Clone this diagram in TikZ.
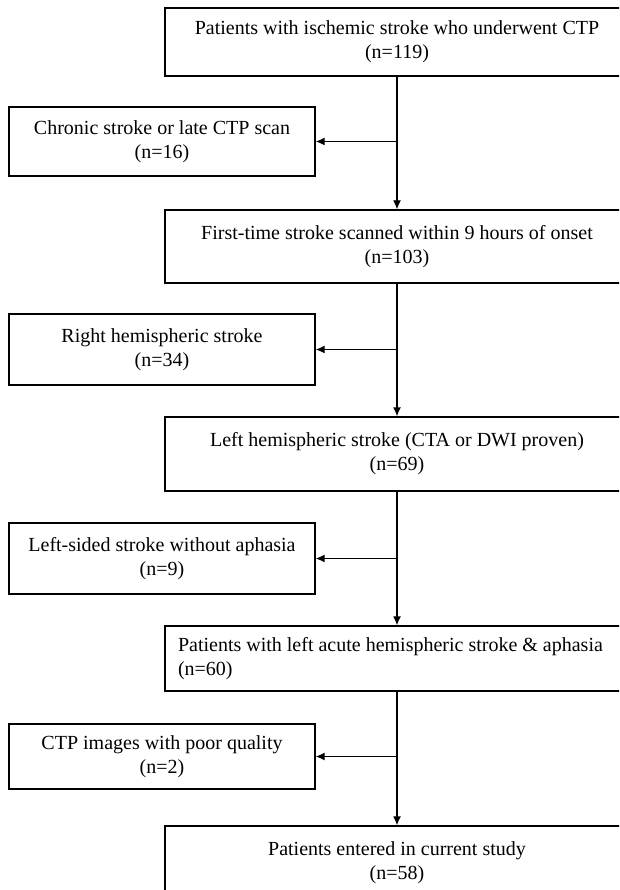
\documentclass[tikz,border=0pt]{standalone}
\usepackage{fontspec}
\setmainfont{Liberation Serif}
\usetikzlibrary{arrows.meta}

\tikzset{
  mainbox/.style={draw, line width=1.3pt, minimum width=464pt, align=center, inner sep=0pt},
  exbox/.style={draw, line width=1.3pt, minimum width=306pt, align=center, inner sep=0pt},
  arr/.style={line width=1.3pt, -{Latex[length=9pt,width=8pt]}},
}

\begin{document}
\begin{tikzpicture}[x=1pt, y=-1pt, font=\fontsize{20}{24}\selectfont]
  \clip (0,0) rectangle (619,890);
  \fill[white] (0,0) rectangle (619,890);

  % main flow
  \node[mainbox, minimum height=68pt] (n1) at (397,42) {Patients with ischemic stroke who underwent CTP\\(n=119)};
  \node[mainbox, minimum height=73pt] (n2) at (397,246.5) {First-time stroke scanned within 9 hours of onset\\(n=103)};
  \node[mainbox, minimum height=74pt] (n3) at (397,454) {Left hemispheric stroke (CTA or DWI proven)\\(n=69)};
  \node[mainbox, minimum height=65pt, text width=460pt, inner xsep=13pt, align=flush left] (n4) at (408,658.5) {Patients with left acute hemispheric stroke \& aphasia\\(n=60)};
  \node[mainbox, minimum height=74pt] (n5) at (397,863) {Patients entered in current study\\(n=58)};

  % excluded
  \node[exbox, minimum height=69pt] (x1) at (162,141.5) {Chronic stroke or late CTP scan\\(n=16)};
  \node[exbox, minimum height=71pt] (x2) at (162,349.5) {Right hemispheric stroke\\(n=34)};
  \node[exbox, minimum height=71pt] (x3) at (162,558.5) {Left-sided stroke without aphasia\\(n=9)};
  \node[exbox, minimum height=65pt] (x4) at (162,756.5) {CTP images with poor quality\\(n=2)};

  \foreach \a/\b/\x in {n1/n2/x1, n2/n3/x2, n3/n4/x3, n4/n5/x4} {
    \draw[arr] (n1.south |- \a.south) -- (n1.south |- \b.north);
    \draw[arr] (n1.south |- \x.east) -- (\x.east);
  }
\end{tikzpicture}
\end{document}
